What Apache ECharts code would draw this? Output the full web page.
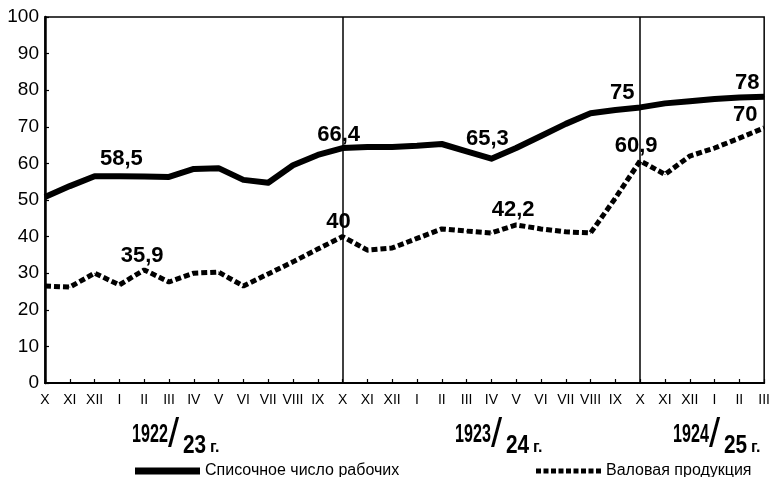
<!DOCTYPE html>
<html>
<head>
    <meta charset="utf-8">
    <script src="https://cdn.jsdelivr.net/npm/echarts@6/dist/echarts.min.js"></script>
</head>
<body style="margin:0;background:#fff;">
<div id="main" style="width: 773px;height:477px;"></div>
<script type="text/javascript">

// месяцы хозяйственных лет 1922/23 - 1924/25
var months = ['X','XI','XII','I','II','III','IV','V','VI','VII','VIII','IX',
              'X','XI','XII','I','II','III','IV','V','VI','VII','VIII','IX',
              'X','XI','XII','I','II','III'];

// Списочное число рабочих (в % к довоенному)
var workers = [50.8, 53.8, 56.5, 56.5, 56.4, 56.3, 58.5, 58.7, 55.5, 54.7, 59.5, 62.3,
               64.2, 64.5, 64.5, 64.8, 65.3, 63.3, 61.3, 64.2, 67.5, 70.8, 73.7, 74.6,
               75.3, 76.4, 77.0, 77.6, 78.0, 78.2];

// Валовая продукция
var output = [26.5, 26.2, 30.0, 26.8, 30.9, 27.6, 30.0, 30.3, 26.5, 29.8, 33.1, 36.6,
              40.0, 36.3, 36.9, 39.5, 42.1, 41.5, 41.0, 43.2, 42.1, 41.3, 41.0, 50.5,
              60.7, 57.0, 62.0, 64.2, 66.9, 69.7];

// подписи на кривых
var workerNoteIdx = [3, 12, 18, 24, 29];
var workerNotes = ['58,5', '66,4', '65,3', '75', '78'];
var outputNoteIdx = [4, 12, 19, 24, 29];
var outputNotes = ['35,9', '40', '42,2', '60,9', '70'];

// границы хозяйственных лет
var yearBreaks = [12, 24];
var yearLabels = [['1922', '23'], ['1923', '24'], ['1924', '25']];

var yTicks = [0, 100, 10];

var myChart = echarts.init(document.getElementById('main'));

// сдвиги подписей, чтобы встали как на оригинале
var noteShift = {
    '58,5': [2, 0], '66,4': [-4, 4], '65,3': [-4, -2], '75': [-18, 3], '78': [-17, 4],
    '35,9': [-2, 4], '40': [-4, 3], '42,2': [-3, 3], '60,9': [-4, 3], '70': [-19, 5]
};

function withNotes(values, idx, notes) {
    return values.map(function (v, i) {
        var k = idx.indexOf(i);
        if (k < 0) return v;
        return {
            value: v,
            label: {
                show: true,
                position: 'top',
                distance: 6,
                formatter: notes[k],
                offset: noteShift[notes[k]] || [0, 0],
                fontFamily: 'Liberation Sans',
                fontWeight: 'bold',
                fontSize: 22,
                color: '#000'
            }
        };
    });
}

function yearText(x, a, b) {
    var f = "bold 26px 'Liberation Sans'";
    return {
        type: 'group', left: x, top: 416,
        children: [
            { type: 'text', x: 0, y: 0, scaleX: 0.62, style: { text: a, font: f, fill: '#000' } },
            { type: 'text', x: 36, y: -6, style: { text: '/', font: "40px 'Liberation Sans'", fill: '#000' } },
            { type: 'text', x: 51, y: 11, scaleX: 0.8, style: { text: b, font: f, fill: '#000' } },
            { type: 'text', x: 78, y: 18, style: { text: 'г.', font: "bold 16px 'Liberation Sans'", fill: '#000' } }
        ]
    };
}

// пунктирный значок для легенды
var dashIcon = 'path://';
for (var d = 0; d < 9; d++) {
    dashIcon += 'M' + (d * 7.5) + ' 0h5v5h-5z';
}

option = {
    backgroundColor: '#fff',
    animation: false,
    grid: {
        left: 45, right: 7, top: 17, bottom: 94,
        show: true, borderColor: '#000', borderWidth: 1.5
    },
    legend: [
        {
            data: [{ name: 'Списочное число рабочих', icon: 'rect' }],
            left: 130, top: 458,
            itemWidth: 65, itemHeight: 7, itemGap: 10,
            textStyle: { fontFamily: 'Liberation Sans', fontSize: 16, color: '#000' }
        },
        {
            data: [{ name: 'Валовая продукция', icon: dashIcon }],
            left: 531, top: 458,
            itemWidth: 65, itemHeight: 5, itemGap: 10,
            symbolKeepAspect: false,
            textStyle: { fontFamily: 'Liberation Sans', fontSize: 16, color: '#000' }
        }
    ],
    xAxis: {
        type: 'category',
        data: months,
        boundaryGap: false,
        axisLine: { lineStyle: { color: '#000', width: 2 } },
        axisTick: { inside: true, length: 4, interval: 0, lineStyle: { color: '#000', width: 1.2 } },
        axisLabel: {
            interval: 0, margin: 10, color: '#000',
            fontFamily: 'Liberation Sans', fontSize: 14
        },
        splitLine: { show: false }
    },
    yAxis: {
        type: 'value',
        min: yTicks[0], max: yTicks[1], interval: yTicks[2],
        axisLine: { show: true, lineStyle: { color: '#000', width: 2.5 } },
        axisTick: { show: true, inside: true, length: 4, lineStyle: { color: '#000', width: 1.2 } },
        axisLabel: { margin: 6, color: '#000', fontFamily: 'Liberation Sans', fontSize: 19 },
        splitLine: { show: false }
    },
    graphic: [
        yearText(132, yearLabels[0][0], yearLabels[0][1]),
        yearText(455, yearLabels[1][0], yearLabels[1][1]),
        yearText(673, yearLabels[2][0], yearLabels[2][1])
    ],
    series: [
        {
            name: 'Списочное число рабочих',
            type: 'line',
            symbol: 'circle',
            symbolSize: 1,
            showAllSymbol: true,
            data: withNotes(workers, workerNoteIdx, workerNotes),
            lineStyle: { color: '#000', width: 6, join: 'round' },
            itemStyle: { color: '#000' },
            z: 3,
            markLine: {
                silent: true,
                symbol: 'none',
                label: { show: false },
                lineStyle: { color: '#000', width: 1.5, type: 'solid' },
                data: yearBreaks.map(function (i) { return { xAxis: i }; })
            }
        },
        {
            name: 'Валовая продукция',
            type: 'line',
            symbol: 'circle',
            symbolSize: 1,
            showAllSymbol: true,
            data: withNotes(output, outputNoteIdx, outputNotes),
            lineStyle: { color: '#000', width: 5, type: [6, 3], cap: 'butt' },
            itemStyle: { color: '#000' },
            z: 4
        }
    ]
};

myChart.setOption(option);

</script>
</body>
</html>
